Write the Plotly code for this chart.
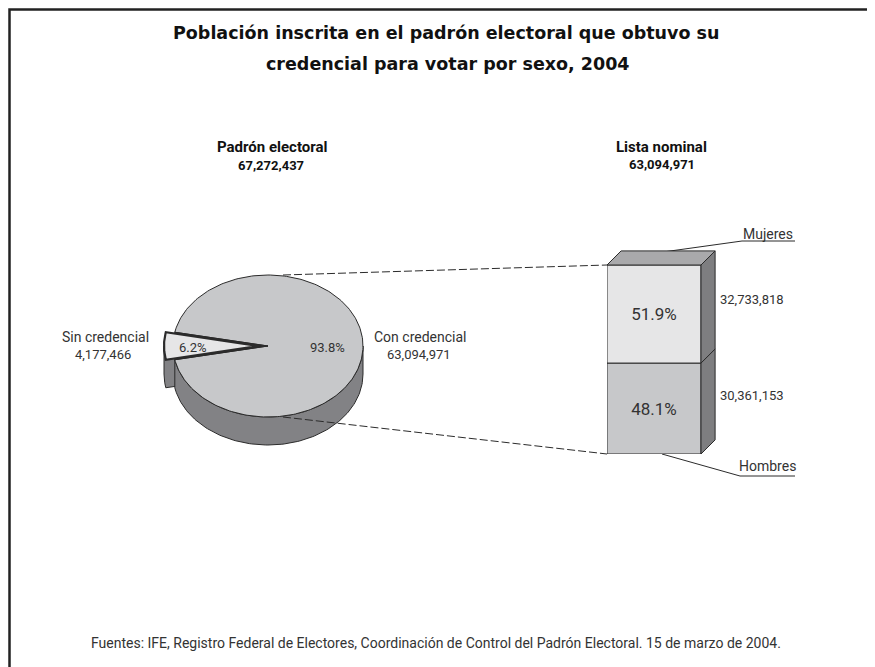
import math
import plotly.graph_objects as go

# ---------------- data ----------------
pie_labels = ["Sin credencial", "Con credencial"]
pie_values = [4177466, 63094971]
pie_pct = ["6.2%", "93.8%"]
padron_total = 67272437

bar_labels = ["Hombres", "Mujeres"]
bar_values = [30361153, 32733818]
bar_pct = ["48.1%", "51.9%"]
lista_total = 63094971

title_lines = ["Población inscrita en el padrón electoral que obtuvo su",
               "credencial para votar por sexo, 2004"]
source_text = ("Fuentes: IFE, Registro Federal de Electores, Coordinación de Control "
               "del Padrón Electoral. 15 de marzo de 2004.")

# ---------------- style ----------------
W, H = 875, 667
OFF = 8  # browser body margin
NARROW = "Roboto, Liberation Sans, sans-serif"
TITLEF = "DejaVu Sans, Open Sans, sans-serif"
EDGE = "#2b2b2b"
TOP_GRAY = "#c7c8ca"
SIDE_GRAY = "#828285"
LIGHT = "#e6e6e7"
TXT = "#333333"

# pie geometry (pixel space)
CX, CY, RX, RY, DEPTH, PULL = 268, 346, 95, 71, 28, 9

fig = go.Figure()


def ell(t_deg, dx=0.0, dy=0.0):
    t = math.radians(t_deg)
    return CX + dx + RX * math.cos(t), CY + dy - RY * math.sin(t)


def arc(a0, a1, n=120, dx=0.0, dy=0.0):
    return [ell(a0 + (a1 - a0) * i / n, dx, dy) for i in range(n + 1)]


def poly(pts, fill, width=1.0, color=EDGE, xa="x", ya="y"):
    xs = [p[0] for p in pts] + [pts[0][0]]
    ys = [p[1] for p in pts] + [pts[0][1]]
    fig.add_trace(go.Scatter(x=xs, y=ys, mode="lines", fill="toself", fillcolor=fill,
                             line=dict(color=color, width=width), hoverinfo="skip",
                             showlegend=False, xaxis=xa, yaxis=ya))


total = sum(pie_values)
half = 180.0 * pie_values[0] / total          # half-span of small slice (deg)
s0, s1 = 180.0 - half, 180.0 + half
m0, m1 = s1, s0 + 360.0

# slice side (partly hidden by main body)
tip = (CX - PULL, CY)
side_pts = [tip] + arc(s1, 180.0, 30, dx=-PULL) + arc(180.0, s1, 30, dx=-PULL, dy=DEPTH) + [(tip[0], tip[1] + DEPTH)]
poly(side_pts, SIDE_GRAY)

# main body side
poly(arc(m0, 360.0) + arc(360.0, m0, dy=DEPTH), SIDE_GRAY)
# main top
poly([(CX, CY)] + arc(m0, m1, 240), TOP_GRAY)
# hole of pulled slice
poly([(CX, CY)] + arc(s0, s1, 30), "#2a2a2a", width=1)
# slice top
poly([tip] + arc(s0, s1, 30, dx=-PULL), LIGHT, width=2.2)

# dashed connectors
for ys in ([275, 265], [417, 454]):
    fig.add_trace(go.Scatter(x=[283, 607], y=ys, mode="lines",
                             line=dict(color=EDGE, width=1, dash="8px,3px"),
                             hoverinfo="skip", showlegend=False))

# ---------------- stacked 3D bar ----------------
BDX, BDY = 0.15, 4.7e6
bar_colors = [TOP_GRAY, LIGHT]
base = 0
for lab, v, pct, col in zip(bar_labels, bar_values, bar_pct, bar_colors):
    fig.add_trace(go.Bar(x=[0], y=[v], base=[base], width=1.0,
                         marker=dict(color=col, line=dict(color=EDGE, width=1)),
                         text=[pct], textposition="inside", insidetextanchor="middle",
                         textfont=dict(family=NARROW, size=17, color=TXT), constraintext="none",
                         hoverinfo="skip", showlegend=False, xaxis="x2", yaxis="y2"))
    poly([(0.5, base), (0.5 + BDX, base + BDY), (0.5 + BDX, base + v + BDY), (0.5, base + v)],
         "#7e7e80", xa="x2", ya="y2")
    base += v
poly([(-0.5, base), (0.5, base), (0.5 + BDX, base + BDY), (-0.5 + BDX, base + BDY)],
     "#a9a9ab", xa="x2", ya="y2")

# leader lines
for xs, ys in [([663, 742, 795], [252, 241, 241]), ([662, 740, 795], [454, 476, 476])]:
    fig.add_trace(go.Scatter(x=xs, y=ys, mode="lines", line=dict(color=EDGE, width=1),
                             hoverinfo="skip", showlegend=False))

# frame
fig.add_trace(go.Scatter(x=[9.5, 9.5, 875], y=[667, 9.5, 9.5], mode="lines",
                         line=dict(color="#222", width=2.5),
                         hoverinfo="skip", showlegend=False))

# ---------------- text ----------------
ann = []


def t(x, y, s, size, family=NARROW, color=TXT, xanchor="center"):
    ann.append(dict(x=x, y=y, xref="x", yref="y", text=s, showarrow=False,
                    font=dict(family=family, size=size, color=color), xanchor=xanchor, yanchor="middle"))


t(446, 33, "<b>" + title_lines[0] + "</b>", 17.5, TITLEF, "#111")
t(448, 64, "<b>" + title_lines[1] + "</b>", 17.5, TITLEF, "#111")

t(272, 147, "<b>Padrón electoral</b>", 15, color="#111")
t(271, 165, "<b>" + f"{padron_total:,}" + "</b>", 13, color="#111")
t(661, 147, "<b>Lista nominal</b>", 15, color="#111")
t(662, 164, "<b>" + f"{lista_total:,}" + "</b>", 13, color="#111")

t(105, 337, pie_labels[0], 14)
t(103, 354, f"{pie_values[0]:,}", 13)
t(420, 337, pie_labels[1], 14)
t(419, 354, f"{pie_values[1]:,}", 13)
t(193, 347, pie_pct[0], 13)
t(327, 347, pie_pct[1], 13)

t(718, 299, f"{bar_values[1]:,}", 13, xanchor="left")
t(718, 395, f"{bar_values[0]:,}", 13, xanchor="left")
t(768, 234, bar_labels[1], 14)
t(767, 466, bar_labels[0], 14)

t(436, 643, source_text, 14)

fig.update_layout(
    width=W - OFF, height=H - OFF, margin=dict(l=0, r=0, t=0, b=0),
    paper_bgcolor="white", plot_bgcolor="rgba(0,0,0,0)",
    barmode="overlay", annotations=ann, showlegend=False,
    xaxis=dict(range=[OFF, W], domain=[0, 1], visible=False, fixedrange=True),
    yaxis=dict(range=[H, OFF], domain=[0, 1], visible=False, fixedrange=True),
    xaxis2=dict(range=[-0.5, 1.0], domain=[(607 - OFF) / (W - OFF), (748 - OFF) / (W - OFF)],
                anchor="y2", visible=False, fixedrange=True),
    yaxis2=dict(range=[0, 72e6], domain=[(H - 454) / (H - OFF), (H - 454 + 215.68) / (H - OFF)],
                anchor="x2", visible=False, fixedrange=True),
)

fig.write_html("out.html")
